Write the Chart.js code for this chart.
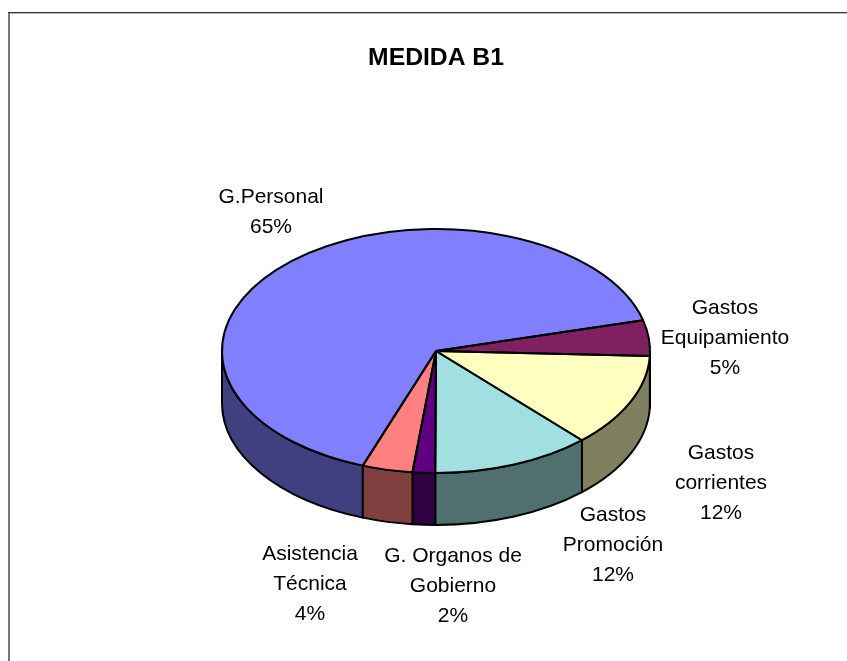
<!DOCTYPE html>
<html>
<head>
<meta charset="utf-8">
<title>MEDIDA B1</title>
<script src="https://cdn.jsdelivr.net/npm/chart.js@4"></script>
<style>
html, body { margin: 0; padding: 0; background: #fff; }
canvas { display: block; }
</style>
</head>
<body>
<canvas id="pieChart" width="847" height="661"></canvas>
<script>
const categories = ['G.Personal', 'Gastos Equipamiento', 'Gastos corrientes', 'Gastos Promoción', 'G. Organos de Gobierno', 'Asistencia Técnica'];
const values = [65.4, 4.7, 12.4, 12, 1.7, 3.8];
const labelLines = [['G.Personal'], ['Gastos', 'Equipamiento'], ['Gastos', 'corrientes'], ['Gastos', 'Promoción'], ['G. Organos de', 'Gobierno'], ['Asistencia', 'Técnica']];
const labelAnchors = [[271, 197], [725, 308], [721, 453], [613, 515], [453, 556], [310, 554]];
const topColors = ['#8080ff', '#7f2060', '#ffffc0', '#a0e0e0', '#600080', '#ff8080'];
const wallColors = ['#404080', '#401030', '#808060', '#507070', '#300040', '#804040'];

const FONT = '"Liberation Sans", Arial, sans-serif';
const squash = 0.57; // tilt of the pie
const depth = 52;
const lineStep = 30;

// pie is drawn flat by Chart.js, this plugin tilts it and adds the side wall
const tiltPlugin = {
    id: 'tilt',
    beforeDraw(chart) {
        const c = chart.ctx;
        c.save();
        c.fillStyle = '#fff';
        c.fillRect(0, 0, chart.width, chart.height);
        c.fillStyle = '#777';
        c.fillRect(8, 12, 2, chart.height - 12);
        c.fillStyle = '#333';
        c.fillRect(8, 12, chart.width - 8, 1);
        c.fillStyle = '#bbb';
        c.fillRect(10, 13, chart.width - 10, 1);
        c.restore();
    },
    beforeDatasetsDraw(chart) {
        const c = chart.ctx;
        const arcs = chart.getDatasetMeta(0).data;
        c.lineWidth = 2;
        c.strokeStyle = '#000';
        c.lineJoin = 'round';
        arcs.forEach((arc, i) => {
            const ry = arc.outerRadius * squash;
            [0, Math.PI * 2].forEach(turn => {
                const a = Math.max(arc.startAngle, turn);
                const b = Math.min(arc.endAngle, turn + Math.PI);
                if (b <= a) return;
                c.beginPath();
                c.ellipse(arc.x, arc.y, arc.outerRadius, ry, 0, a, b);
                c.ellipse(arc.x, arc.y + depth, arc.outerRadius, ry, 0, b, a, true);
                c.closePath();
                c.fillStyle = wallColors[i];
                c.fill();
                c.stroke();
            });
        });
        const first = arcs[0];
        c.save();
        c.translate(first.x, first.y);
        c.scale(1, squash);
        c.translate(-first.x, -first.y);
    },
    afterDatasetsDraw(chart) {
        const c = chart.ctx;
        c.restore();
        const arcs = chart.getDatasetMeta(0).data;
        c.lineWidth = 2;
        c.strokeStyle = '#000';
        arcs.forEach(arc => {
            c.beginPath();
            c.moveTo(arc.x, arc.y);
            c.ellipse(arc.x, arc.y, arc.outerRadius, arc.outerRadius * squash, 0, arc.startAngle, arc.endAngle);
            c.closePath();
            c.stroke();
        });
    },
    afterDraw(chart) {
        const c = chart.ctx;
        c.save();
        c.font = '21px ' + FONT;
        c.fillStyle = '#000';
        c.textAlign = 'center';
        c.textBaseline = 'middle';
        labelLines.forEach((lines, i) => {
            const [x, y] = labelAnchors[i];
            lines.concat(Math.round(values[i]) + '%').forEach((t, n) => c.fillText(t, x, y + n * lineStep));
        });
        c.restore();
    }
};

new Chart(document.getElementById('pieChart').getContext('2d'), {
    type: 'pie',
    data: {
        labels: categories,
        datasets: [{
            data: values,
            backgroundColor: topColors,
            borderWidth: 0,
            clip: false
        }]
    },
    options: {
        responsive: false,
        animation: false,
        rotation: 200,
        radius: 214,
        layout: { padding: { left: 222, right: 197, top: 0, bottom: 96 } },
        plugins: {
            legend: { display: false },
            tooltip: { enabled: false },
            title: {
                display: true,
                text: 'MEDIDA B1',
                color: '#000',
                font: { family: FONT, size: 24.7, weight: 'bold' },
                padding: { top: 43, bottom: 64.4 }
            }
        }
    },
    plugins: [tiltPlugin]
});
</script>
</body>
</html>
